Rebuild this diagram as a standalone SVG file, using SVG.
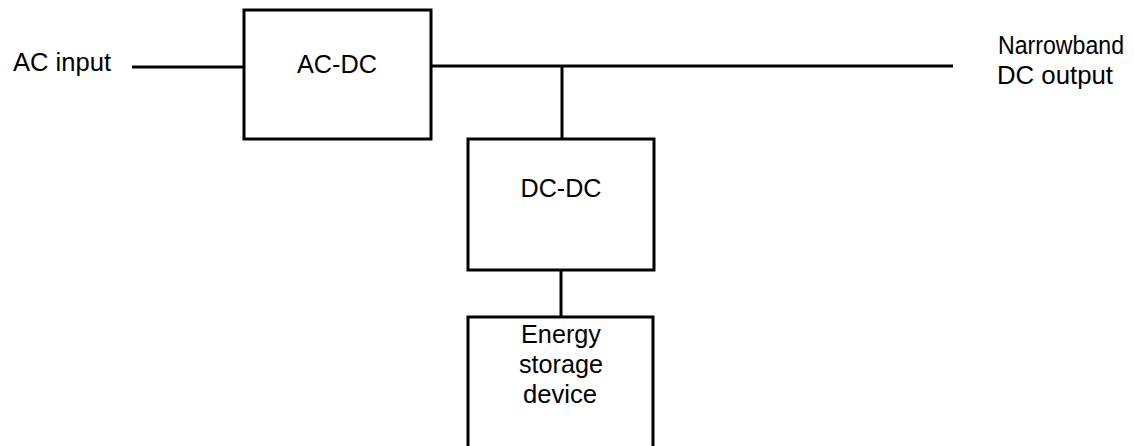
<svg xmlns="http://www.w3.org/2000/svg" width="1134" height="446" viewBox="0 0 1134 446">
<style>
.box{fill:#fff;stroke:#000;stroke-width:3}
.ln{stroke:#000;stroke-width:3;fill:none}
text{font-family:"Liberation Sans",Arial,sans-serif;font-size:25px;fill:#000}
.m{text-anchor:middle}
</style>
<rect width="1134" height="446" fill="#fff"/>
<g id="connectors">
<line class="ln" x1="132" y1="67" x2="244" y2="67"/>
<line class="ln" x1="431" y1="66" x2="953" y2="66"/>
<line class="ln" x1="562" y1="66" x2="562" y2="139"/>
<line class="ln" x1="561" y1="270" x2="561" y2="317"/>
</g>
<g id="ac-input"><text x="13" y="71" textLength="98" lengthAdjust="spacingAndGlyphs">AC input</text></g>
<g id="ac-dc">
<rect class="box" x="244" y="10" width="187" height="129"/>
<text class="m" x="337" y="72.5" textLength="80" lengthAdjust="spacingAndGlyphs">AC-DC</text>
</g>
<g id="dc-dc">
<rect class="box" x="468" y="139" width="186" height="131"/>
<text class="m" x="561" y="196.5" textLength="81" lengthAdjust="spacingAndGlyphs">DC-DC</text>
</g>
<g id="energy-storage">
<rect class="box" x="468" y="317" width="185" height="150"/>
<text class="m" x="561" y="343" textLength="80" lengthAdjust="spacingAndGlyphs">Energy</text>
<text class="m" x="561" y="373" textLength="84" lengthAdjust="spacingAndGlyphs">storage</text>
<text class="m" x="560" y="403" textLength="74" lengthAdjust="spacingAndGlyphs">device</text>
</g>
<g id="dc-output">
<text class="m" x="1061" y="54" textLength="126" lengthAdjust="spacingAndGlyphs">Narrowband</text>
<text class="m" x="1055" y="84" textLength="116" lengthAdjust="spacingAndGlyphs">DC output</text>
</g>
</svg>
